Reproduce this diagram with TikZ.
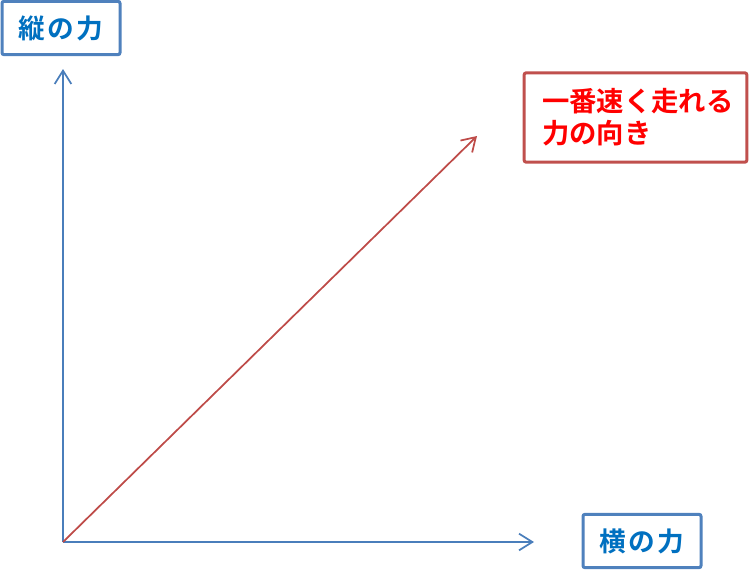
\documentclass[tikz,border=0pt]{standalone}
\usepackage{fontspec}
\usepackage{xcolor}
\usetikzlibrary{arrows.meta}
\newfontfamily\jpfont{Noto Sans CJK JP}[BoldFont={Noto Sans CJK JP Bold}]
\newfontfamily\jpwidefont{Noto Sans CJK JP}[BoldFont={Noto Sans CJK JP Bold}, LetterSpace=8]

\definecolor{axisblue}{HTML}{4A7EBB}
\definecolor{boxblue}{HTML}{4F81BD}
\definecolor{textblue}{HTML}{0070C0}
\definecolor{boxred}{HTML}{C0504D}
\definecolor{arrowred}{HTML}{BE4B48}

\tikzset{
    labelbox/.style={draw=boxblue, line width=2.25pt, rounded corners=1.5pt, fill=white,
        minimum width=88.5pt, minimum height=40pt, inner sep=0pt,
        text=textblue, font=\jpwidefont\bfseries\fontsize{20}{24}\selectfont},
    notebox/.style={draw=boxred, line width=2.25pt, rounded corners=1.5pt, fill=white,
        minimum width=167pt, minimum height=67pt, inner sep=0pt,
        text width=140pt, align=left,
        text=red, font=\jpfont\bfseries\fontsize{20.5}{24}\selectfont},
    axis/.style={draw=axisblue, line width=1.5pt, -{Straight Barb[length=10pt, width=12.5pt, line width=1.3pt]}},
}

\begin{document}
\begin{tikzpicture}[x=0.75pt, y=-0.75pt]
    \useasboundingbox (0,0) rectangle (750,575);

    % Các điểm của trục
    \coordinate (o) at (63, 542);
    \coordinate (ytop) at (63, 69);
    \coordinate (xend) at (534, 542);
    \coordinate (dend) at (477, 136);

    % Các trục
    \draw [axis] (o)--(ytop);
    \draw [axis] (o)--(xend);
    \draw [axis, draw=arrowred, line width=1.3pt] (o)--(dend);

    % Các nhãn
    \node [labelbox] (ylab) at (61, 28) {縦の力\hspace{-8pt}};
    \node [labelbox] (xlab) at (642, 541) {横の力\hspace{-8pt}};
    \node [notebox] (dlab) at (635.5, 117.5) {一番速く走れる\\力の向き};

\end{tikzpicture}
\end{document}
